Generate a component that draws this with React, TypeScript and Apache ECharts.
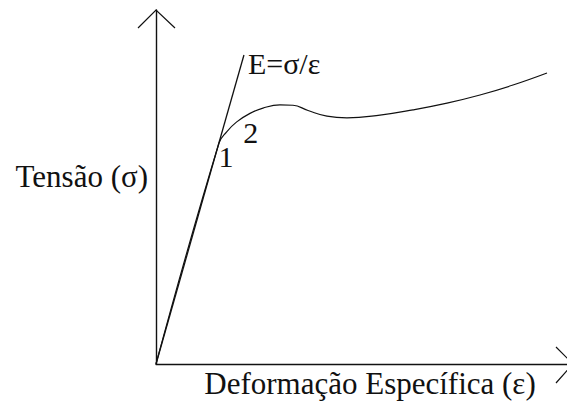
import React, { useEffect, useRef } from "react";
import * as echarts from "echarts";

// Strain (ε) and stress (σ) in relative units (0..100 on each axis)
const elasticStrain = [0, 21.4];
const elasticStress = [0, 87.3];

const curveStrain = [0, 15.33, 17.2, 19.64, 22.87, 26.03, 30.17, 33.33, 37.0, 41.6, 46.47, 54.5, 62.53, 70.8, 78.83, 86.86, 95.13];
const curveStress = [0, 62.43, 65.6, 68.4, 70.8, 72.3, 73.2, 73.1, 71.6, 70.0, 69.5, 70.3, 71.8, 73.7, 76.0, 78.8, 82.2];

// point labels on the curve: index -> text
const pointLabelIndex = [1, 3];
const pointLabelText = ["1", "2"];

const elasticLabel = "E=σ/ε";
const yTitle = "Tensão (σ)";
const xTitle = "Deformação Específica (ε)";

const W = 567;
const H = 403;
const GRID_LEFT = 156;
const GRID_TOP = 10;
const GRID_BOTTOM = 39;
const FONT = "Liberation Serif, Times New Roman, serif";
const INK = "#111";

export default function App() {
  const ref = useRef<HTMLDivElement>(null);
  useEffect(() => {
    if (!ref.current) return;
    const chart = echarts.init(ref.current, null, { renderer: "svg" });
    const axisY = H - GRID_BOTTOM;
    const labelOffsets: number[][] = [
      [7, 14],
      [14, 11],
    ];
    const textBase = { fontFamily: FONT, fontSize: 30, color: INK };
    const curveData = curveStrain.map((x, i) => {
      const k = pointLabelIndex.indexOf(i);
      if (k >= 0) {
        return {
          value: [x, curveStress[i]],
          label: {
            show: true,
            formatter: pointLabelText[k],
            position: "inside",
            offset: labelOffsets[k],
            ...textBase,
          },
        };
      }
      return { value: [x, curveStress[i]] };
    });
    chart.setOption({
      animation: false,
      backgroundColor: "#fff",
      textStyle: { fontFamily: FONT },
      grid: {
        left: GRID_LEFT,
        right: 0,
        top: GRID_TOP,
        bottom: GRID_BOTTOM,
        containLabel: false,
        outerBoundsMode: "none",
      },
      xAxis: {
        type: "value",
        min: 0,
        max: 100,
        name: xTitle,
        nameLocation: "middle",
        nameGap: 4,
        nameTextStyle: { ...textBase, fontSize: 31, verticalAlign: "top", padding: [0, 0, 0, 17] },
        axisLine: { show: true, lineStyle: { color: INK, width: 1.4 } },
        axisTick: { show: false },
        axisLabel: { show: false },
        splitLine: { show: false },
      },
      yAxis: {
        type: "value",
        min: 0,
        max: 100,
        name: yTitle,
        nameLocation: "middle",
        nameRotate: 0,
        nameGap: 8,
        nameTextStyle: { ...textBase, fontSize: 31, align: "right", verticalAlign: "bottom", lineHeight: 22 },
        axisLine: { show: true, lineStyle: { color: INK, width: 1.4 } },
        axisTick: { show: false },
        axisLabel: { show: false },
        splitLine: { show: false },
      },
      series: [
        {
          type: "line",
          data: elasticStrain.map((x, i) => [x, elasticStress[i]]),
          showSymbol: true,
          symbol: "circle",
          symbolSize: 0,
          lineStyle: { color: INK, width: 1.3 },
          label: {
            show: true,
            position: "right",
            distance: 4,
            offset: [0, 9],
            formatter: (p: any) => (p.dataIndex === elasticStrain.length - 1 ? elasticLabel : ""),
            ...textBase,
          },
          silent: true,
        },
        {
          type: "line",
          data: curveData,
          smooth: 0.45,
          showSymbol: true,
          symbol: "circle",
          symbolSize: 0,
          lineStyle: { color: INK, width: 1.2 },
          silent: true,
        },
      ],
      graphic: [
        {
          type: "polyline",
          shape: { points: [[GRID_LEFT - 18, GRID_TOP + 18], [GRID_LEFT, GRID_TOP], [GRID_LEFT + 19, GRID_TOP + 18]] },
          style: { stroke: INK, lineWidth: 1.2, fill: null },
        },
        {
          type: "polyline",
          shape: { points: [[W - 11, axisY - 17], [W + 6, axisY], [W - 11, axisY + 19]] },
          style: { stroke: INK, lineWidth: 1.2, fill: null },
        },
      ],
    });
    return () => chart.dispose();
  }, []);
  return <div ref={ref} style={{ position: "fixed", left: 0, top: 0, width: W, height: H }} />;
}
